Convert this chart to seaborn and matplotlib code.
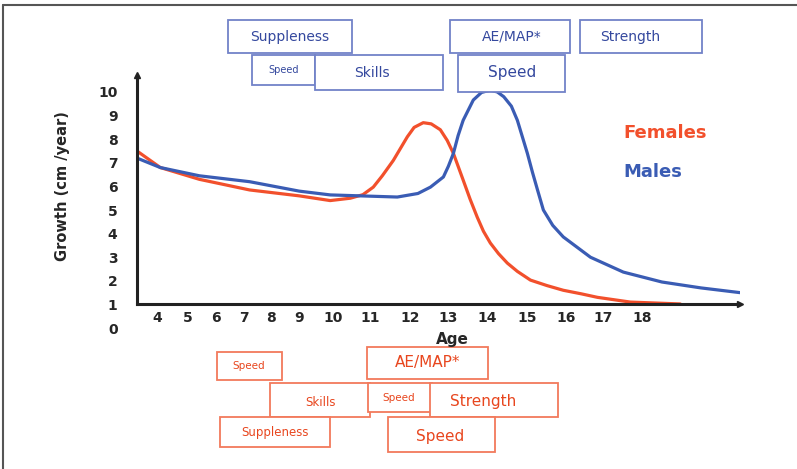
import numpy as np
import pandas as pd
import matplotlib
matplotlib.use("Agg")
import matplotlib.pyplot as plt
from matplotlib.patches import Rectangle
from matplotlib.lines import Line2D
import seaborn as sns

# growth velocity curves (age in years, cm/year)
female_age = [3.35, 4.1, 5.4, 7.2, 9.0, 9.91, 10.46, 10.8, 11.075, 11.3, 11.575, 11.925, 12.1, 12.34, 12.55, 12.79,
              12.97, 13.13, 13.38, 13.56, 13.74, 13.9, 14.075, 14.28, 14.5, 14.75, 15.08, 15.5, 15.92, 16.4, 16.84,
              17.69, 18.97]
female_growth = [7.5, 6.8, 6.3, 5.85, 5.6, 5.4, 5.5, 5.65, 5.97, 6.45, 7.1, 8.1, 8.5, 8.7, 8.65, 8.4,
                 7.95, 7.4, 6.27, 5.45, 4.7, 4.1, 3.6, 3.15, 2.75, 2.4, 2.03, 1.8, 1.6, 1.45, 1.3,
                 1.1, 1.02]

male_age = [3.35, 4.1, 5.4, 7.2, 9.0, 9.91, 11.675, 12.2, 12.53, 12.87, 13.0, 13.13, 13.25, 13.38, 13.64, 13.85,
            14.075, 14.25, 14.41, 14.6, 14.75, 15.0, 15.13, 15.26, 15.41, 15.65, 15.92, 16.65, 17.51, 18.5, 19.5, 20.5]
male_growth = [7.2, 6.8, 6.45, 6.2, 5.8, 5.64, 5.55, 5.7, 5.97, 6.4, 6.85, 7.4, 8.15, 8.8, 9.66, 9.98,
               10.08, 10.0, 9.8, 9.4, 8.8, 7.4, 6.6, 5.85, 5.0, 4.35, 3.86, 3.0, 2.37, 1.95, 1.7, 1.5]

x_tick_labels = [str(a) for a in range(4, 19)]
y_tick_labels = [str(v) for v in range(0, 11)]

male_boxes = ["Suppleness", "Speed", "Skills", "AE/MAP*", "Strength", "Speed"]
female_boxes = ["Speed", "AE/MAP*", "Skills", "Speed", "Strength", "Suppleness", "Speed"]

# layout: pixel position of each age on the axis (the original axis is not linear)
AGE_KNOTS = [3, 4, 5, 6, 7, 8, 9, 10, 11, 12, 13, 14, 15, 16, 17, 18, 22]
PX_KNOTS = [126, 157, 188, 216, 244, 271, 299, 333, 370, 410, 448, 487, 527, 566, 603, 642, 798]

# box geometry in pixels: (x0, y0, x1, y1, text x, text y, font size)
male_geom = [(228, 20, 352, 53, 290, 37, 10), (252, 55, 315, 85, 284, 70, 7),
             (315, 55, 443, 90, 372, 73, 10), (450, 20, 570, 53, 512, 37, 10),
             (580, 20, 702, 53, 630, 37, 10), (458, 55, 565, 92, 512, 73, 11)]
female_geom = [(217, 352, 282, 380, 249, 366, 7.5), (367, 347, 488, 379, 428, 363, 11),
               (270, 383, 370, 417, 320, 402, 8.5), (368, 383, 432, 412, 399, 398, 7.5),
               (430, 383, 558, 417, 483, 401, 11), (220, 417, 330, 447, 275, 432, 8.5),
               (388, 417, 495, 452, 440, 436, 11)]

W, H = 797, 469
RED = "#f2502c"
BLUE = "#3a5cb4"

sns.set_style("white")
plt.rcParams["font.family"] = ["DejaVu Sans"]

fig = plt.figure(figsize=(W / 100, H / 100), dpi=100)
ymin, ymax = -0.1, 10.72
ax = fig.add_axes([137 / W, 1 - 330.4 / H, (740 - 137) / W, (330.4 - 75) / H])

fwd = lambda a: np.interp(a, AGE_KNOTS, PX_KNOTS)
inv = lambda p: np.interp(p, PX_KNOTS, AGE_KNOTS)
ax.set_xscale("function", functions=(fwd, inv))

fem = pd.DataFrame({"age": female_age, "growth": female_growth})
mal = pd.DataFrame({"age": male_age, "growth": male_growth})
sns.lineplot(data=fem, x="age", y="growth", color=RED, lw=2.3, sort=False, ax=ax)
sns.lineplot(data=mal, x="age", y="growth", color=BLUE, lw=2.3, sort=False, ax=ax)
for ln in ax.lines:
    ln.set_solid_joinstyle("round")

ax.set_xlim(3.35, 20.5)
ax.set_ylim(ymin, ymax)
ax.set_xlabel("")
ax.set_ylabel("")

for s in ["top", "right"]:
    ax.spines[s].set_visible(False)
ax.spines["bottom"].set_position(("data", 1))
ax.spines["left"].set_bounds(1, ymax)
for s in ["bottom", "left"]:
    ax.spines[s].set_linewidth(2.2)
    ax.spines[s].set_color("#222222")
ax.plot(0, 1, marker="^", color="#222222", ms=5, transform=ax.transAxes, clip_on=False)
ax.plot(1, 1, marker=">", color="#222222", ms=5, transform=ax.get_yaxis_transform(), clip_on=False)

ax.set_xticks(range(4, 19))
ax.set_xticklabels(x_tick_labels, fontsize=10, fontweight="bold")
ax.set_yticks(range(0, 11))
ax.set_yticklabels(y_tick_labels, fontsize=10, fontweight="bold")
ax.tick_params(axis="x", length=0, pad=5)
ax.tick_params(axis="y", length=0, pad=14)

fig.text(62 / W, 1 - 186 / H, "Growth (cm /year)", rotation=90, ha="center", va="center",
         fontsize=10.5, fontweight="bold")
fig.text(452 / W, 1 - 339 / H, "Age", ha="center", va="center", fontsize=11, fontweight="bold")
fig.text(623 / W, 1 - 133 / H, "Females", color=RED, ha="left", va="center", fontsize=13, fontweight="bold")
fig.text(623 / W, 1 - 172 / H, "Males", color=BLUE, ha="left", va="center", fontsize=13, fontweight="bold")


def draw_boxes(labels, geom, edge, txt):
    for lab, (x0, y0, x1, y1, tx, ty, fs) in zip(labels, geom):
        fig.add_artist(Rectangle((x0 / W, 1 - y1 / H), (x1 - x0) / W, (y1 - y0) / H,
                                 transform=fig.transFigure, fill=True, facecolor="white",
                                 edgecolor=edge, lw=1.3))
        fig.text(tx / W, 1 - ty / H, lab, color=txt, ha="center", va="center", fontsize=fs)


draw_boxes(male_boxes, male_geom, "#7282c8", "#34489e")
draw_boxes(female_boxes, female_geom, "#f27a5c", "#e8461e")

# page frame on the left and top edges
fig.add_artist(Line2D([3 / W, 3 / W], [0, 1 - 5 / H], color="#555555", lw=1.5, transform=fig.transFigure))
fig.add_artist(Line2D([3 / W, 1], [1 - 5 / H, 1 - 5 / H], color="#555555", lw=1.5, transform=fig.transFigure))

fig.savefig("out.png", dpi=100)
